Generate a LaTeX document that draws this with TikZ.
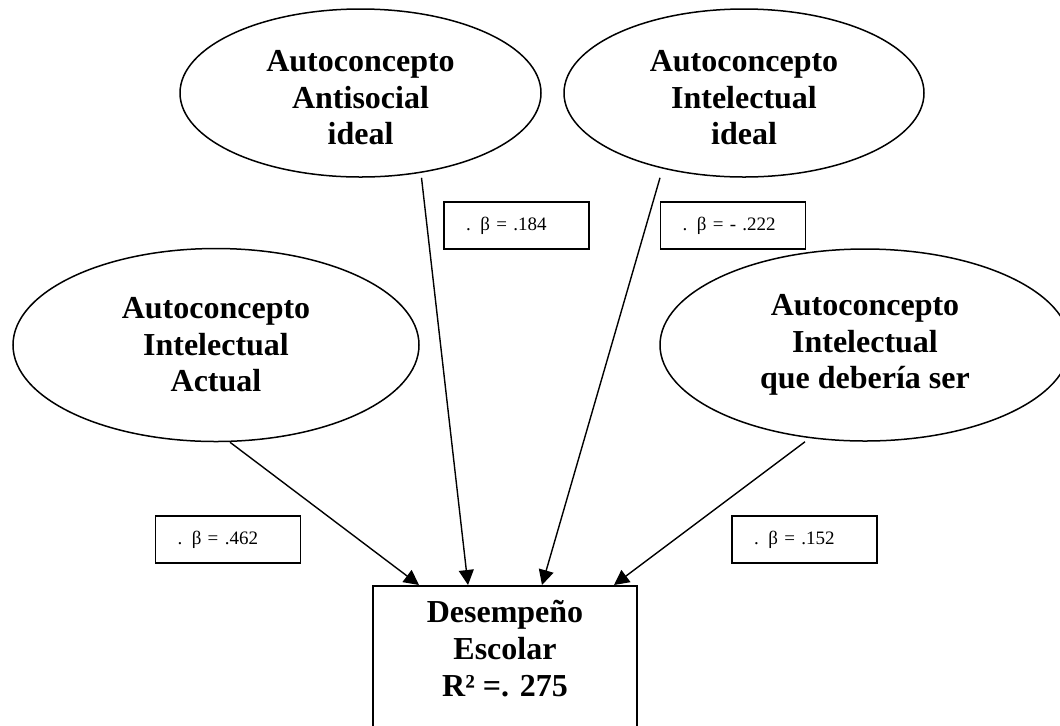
\documentclass[tikz,border=0pt]{standalone}
\usepackage{fontspec}
\setmainfont{Liberation Serif}
\usetikzlibrary{positioning,arrows.meta,shapes.geometric}

\begin{document}
\begin{tikzpicture}[
x=0.5pt, y=-0.5pt,
latent/.style={draw, ellipse, line width=0.75pt, inner sep=0pt, align=center, font=\fontsize{16}{18.25}\selectfont\bfseries},
lowtext/.style={text height=51.5pt, text depth=0pt},
coef/.style={draw, line width=0.8pt, inner xsep=6.25pt, inner ysep=0pt, text width=60pt, minimum height=23.5pt, align=left, font=\fontsize{9.5}{11}\selectfont, execute at begin node=\hskip4.75pt},
outbox/.style={draw, line width=0.9pt, minimum width=132pt, minimum height=90pt, anchor=north, inner sep=0pt},
outtext/.style={inner sep=0pt, align=center, font=\fontsize{16}{18.5}\selectfont\bfseries},
arrow/.style={-{Triangle[length=7.5pt, width=7.5pt]}, line width=0.7pt}
]
\useasboundingbox (0,0) rectangle (1060,725);
% predictors
\node[latent, lowtext, minimum width=180.5pt, minimum height=84pt] (asoc) at (360.5,93) {Autoconcepto\\Antisocial\\ideal};
\node[latent, lowtext, minimum width=180pt, minimum height=84pt] (intid) at (744,93) {Autoconcepto\\Intelectual\\ideal};
\node[latent, minimum width=203pt, minimum height=96.5pt] (intact) at (216,345) {Autoconcepto\\Intelectual\\Actual};
\node[latent, minimum width=205pt, minimum height=96pt] (intdeb) at (865,345) {Autoconcepto\\Intelectual\\que debería ser};
% outcome
\node[outbox] (dep) at (505,585) {};
\node[outtext, below=7.5pt of dep.north] (deptext) {Desempeño\\Escolar\\R² =. 275};
% coefficients
\node[coef] (b184) at (516.5,225.5) {. β = .184};
\node[coef] (b222) at (733,225.5) {. β = - .222};
\node[coef] (b462) at (228,539.5) {. β = .462};
\node[coef] (b152) at (804.5,539.5) {. β = .152};
% paths
\draw[arrow] ([xshift=7pt]intact.south) -- ([xshift=-43pt]dep.north);
\draw[arrow] ([xshift=30.5pt]asoc.south) -- ([xshift=-18.5pt]dep.north);
\draw[arrow] ([xshift=-42pt]intid.south) -- ([xshift=18.5pt]dep.north);
\draw[arrow] ([xshift=-30pt]intdeb.south) -- ([xshift=54.5pt]dep.north);
\end{tikzpicture}
\end{document}
